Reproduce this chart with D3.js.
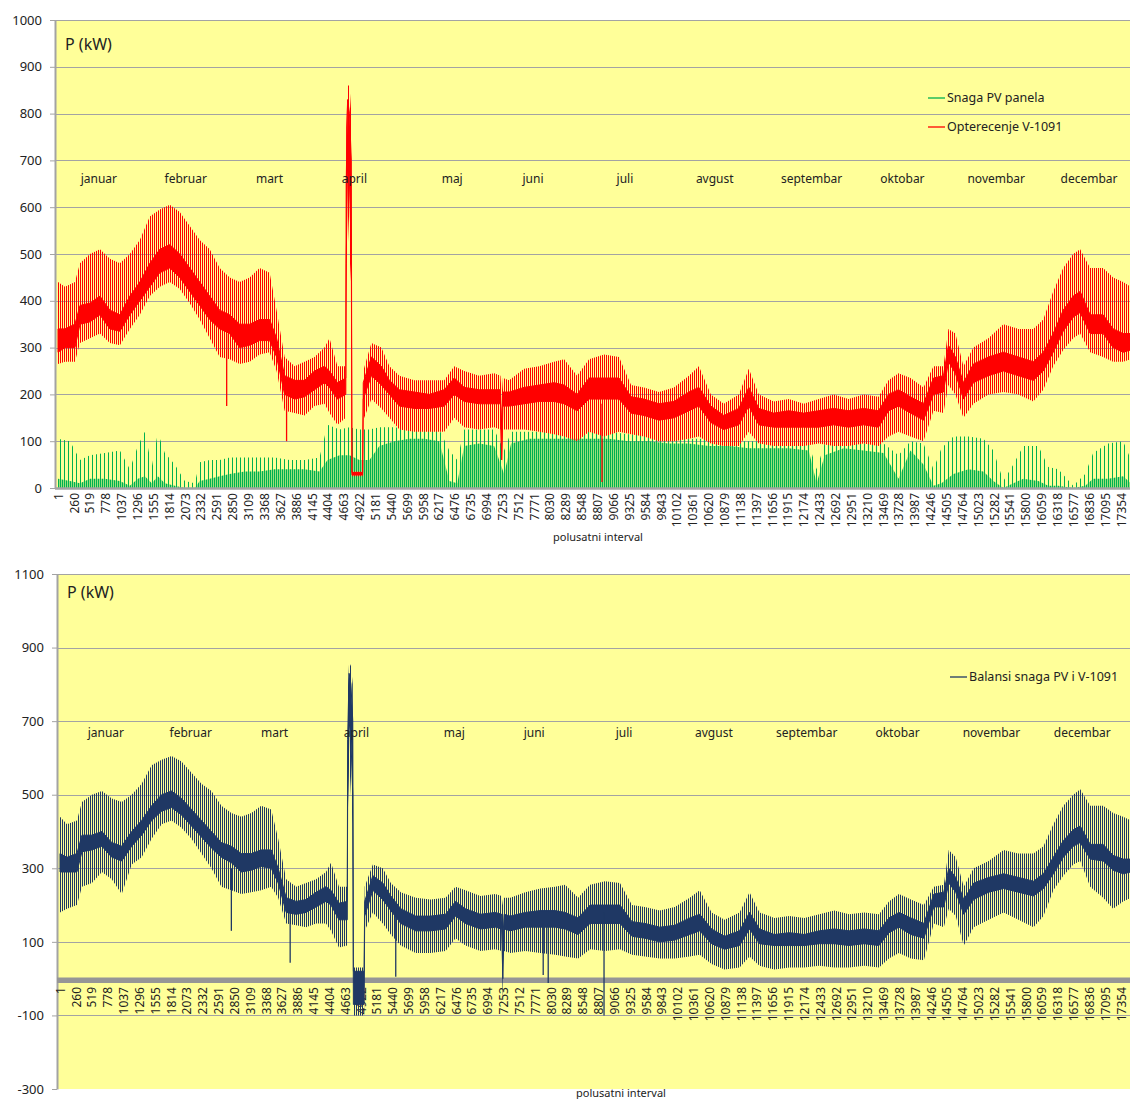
<!DOCTYPE html>
<html>
<head>
<meta charset="utf-8">
<script src="https://cdn.jsdelivr.net/npm/d3@7"></script>
<style>
  body { margin: 0; background: #fff; }
  text { font-family: "Noto Sans", "Open Sans", sans-serif; fill: #222; }
</style>
</head>
<body>
<svg id="chart" width="1130" height="1099"></svg>
<script>
// half-hour interval knots, shared by load and balance
const loadIdx = [1,115,278,360,523,686,848,1011,1174,1337,
  1500,1663,1826,1989,2152,2315,2478,2641,2804,2967,
  3130,3293,3456,3570,3701,3864,4026,4189,4352,4434,
  4564,4700,4706,4730,4760,4790,4800,4975,4985,5118,
  5281,5412,5575,5819,6063,6308,6471,6633,6878,7122,
  7225,7245,7265,7367,7612,7857,8101,8264,8476,8672,
  8916,9161,9357,9568,9813,10057,10302,10465,10660,10872,
  11117,11280,11443,11687,11932,12176,12421,12665,12909,13154,
  13398,13561,13724,13920,14132,14295,14458,14539,14653,14784,
  14947,15192,15436,15680,15925,16088,16250,16413,16576,16690,
  16853,17065,17228,17391,17520];

// Opterecenje V-1091 (kW): spike tops, dense band top, dense band bottom, troughs
const loadHi = [440,430,440,480,500,510,490,480,500,530,
  580,595,605,590,560,530,510,470,450,440,
  450,470,460,380,280,260,270,280,300,320,
  260,260,770,860,860,800,35,35,250,310,
  300,260,240,230,230,230,260,250,240,245,
  240,200,235,230,255,260,270,275,240,275,
  285,280,220,215,205,215,240,260,200,180,
  200,255,200,185,190,180,190,200,190,200,
  195,230,245,235,215,260,260,340,330,260,
  300,320,350,340,340,360,420,470,500,510,
  470,470,450,440,430];
const loadCoreHi = [340,340,350,390,395,410,380,370,410,440,
  480,510,520,500,470,440,410,380,370,350,
  350,360,360,320,240,230,230,250,260,250,
  225,235,650,830,800,700,33,33,225,280,
  260,230,210,205,200,210,235,215,210,210,
  210,130,205,205,215,220,225,220,200,235,
  235,235,195,190,180,185,205,215,175,155,
  170,215,170,160,165,160,165,170,165,170,
  165,200,210,195,180,235,240,305,280,225,
  265,280,290,280,270,290,330,380,410,420,
  370,370,340,330,330];
const loadCoreLo = [290,300,300,350,355,370,340,335,370,400,
  430,460,470,450,420,390,360,340,330,300,
  305,315,315,280,200,190,195,210,225,215,
  190,200,480,700,650,500,28,28,190,240,
  220,200,175,170,170,175,200,185,180,180,
  180,60,175,175,180,185,185,180,165,190,
  190,190,160,155,145,150,165,175,140,125,
  135,175,135,130,130,130,130,135,130,135,
  130,165,175,160,145,200,205,270,245,190,
  225,240,250,240,230,250,290,335,365,375,
  330,330,300,290,295];
const loadLo = [265,270,270,310,320,330,310,305,340,370,
  410,430,440,425,395,360,320,280,275,265,
  270,285,290,250,165,160,155,175,180,160,
  135,150,420,600,500,430,25,25,145,190,
  170,150,125,120,120,120,150,130,125,130,
  125,20,125,125,125,120,115,110,100,120,
  110,120,115,110,100,100,105,110,95,90,
  90,120,95,90,90,90,95,90,90,95,
  90,110,120,110,100,165,160,220,200,150,
  180,200,205,200,185,210,260,295,320,330,
  290,280,270,270,275];
// single-interval drops of the load
const loadDipIdx = [2755, 3733, 8883];
const loadDipLow = [175, 100, 13];
const loadDipTop = [330, 210, 180];

// Snaga PV panela (kW): highest spikes and typical daily peak
const pvIdx = [1,197,360,523,767,1011,1174,1305,1419,1533,
  1631,1745,1908,2071,2234,2315,2478,2641,2804,3049,
  3293,3538,3782,4026,4271,4401,4597,4760,4923,5086,
  5249,5493,5738,5982,6227,6390,6520,6633,6878,7122,
  7285,7399,7693,8019,8345,8672,8998,9324,9650,9976,
  10302,10628,10954,11280,11606,11932,12258,12388,12519,12828,
  13154,13480,13724,13920,14132,14295,14425,14621,14866,15110,
  15273,15436,15599,15762,16007,16170,16333,16576,16772,16902,
  17147,17391,17520];
const pvHi = [105,100,60,70,75,80,40,90,120,45,
  118,75,50,15,10,55,60,60,65,65,
  65,65,60,60,65,135,125,130,125,125,
  130,130,125,125,125,80,60,125,125,125,
  80,120,120,120,120,120,120,115,115,110,
  105,105,100,100,100,100,95,40,95,100,
  95,95,70,100,95,40,85,110,110,105,
  80,15,50,90,90,45,40,5,30,75,
  95,100,60];
const pvMid = [20,15,10,20,20,15,5,20,25,10,
  25,10,5,0,0,15,20,25,30,35,
  35,40,40,40,35,60,70,70,60,60,
  90,100,105,105,100,15,10,90,95,90,
  30,95,105,105,105,105,105,100,100,95,
  95,90,90,85,85,85,80,10,70,85,
  80,75,20,80,50,5,10,30,40,35,
  15,0,10,20,15,5,5,0,5,20,
  20,25,10];

// Balansi snaga PV i V-1091 (kW), same knots as the load
const balIdx = loadIdx;
const balHi = [440,420,430,480,500,510,490,480,500,530,
  580,595,605,590,560,530,510,470,450,440,
  450,470,460,380,270,250,260,270,290,315,
  250,250,770,860,850,800,30,30,250,310,
  300,260,235,220,215,220,250,240,225,230,
  225,200,220,220,235,245,250,255,220,255,
  265,260,200,195,185,195,220,240,180,160,
  180,235,180,165,170,165,175,185,175,180,
  175,210,230,215,200,250,255,350,330,250,
  300,320,350,340,340,360,420,470,500,515,
  470,470,450,440,430];
const balCoreHi = [340,330,340,390,390,400,370,360,400,430,
  470,500,510,490,460,430,400,370,360,340,
  340,350,350,300,220,210,215,235,250,240,
  205,210,650,830,800,700,20,20,210,280,
  260,225,190,170,170,175,210,190,175,180,
  175,100,175,170,180,185,185,180,165,200,
  200,200,155,150,140,145,165,175,135,115,
  130,180,135,120,125,120,130,135,130,135,
  130,165,180,165,150,230,235,300,275,215,
  260,275,285,275,265,285,330,375,405,415,
  365,365,335,325,325];
const balCoreLo = [290,290,290,345,350,360,330,320,360,390,
  430,455,465,445,415,385,355,330,315,290,
  295,305,300,260,180,175,180,195,210,200,
  160,160,480,700,650,500,-70,-70,170,240,
  215,185,150,130,130,135,170,150,135,140,
  135,0,135,130,140,140,140,135,120,150,
  150,150,115,110,100,105,120,130,95,80,
  90,135,95,90,90,90,95,95,90,95,
  90,125,140,120,110,195,195,260,235,175,
  215,235,245,235,225,245,285,330,360,370,
  325,320,295,285,290];
const balLo = [180,190,200,250,260,290,270,230,310,330,
  380,420,430,410,380,340,300,250,240,230,
  235,240,250,220,150,145,140,150,150,130,
  85,90,420,600,500,420,-100,-100,130,180,
  150,120,90,70,70,75,110,90,75,80,
  75,-60,75,70,75,70,65,60,55,80,
  75,80,65,60,55,55,60,65,40,25,
  30,60,35,25,30,30,35,30,30,35,
  30,55,70,55,50,150,140,190,170,90,
  140,160,180,160,140,170,240,280,310,320,
  250,220,190,210,220];
const balDipIdx = [2804, 3766, 5493, 7905, 7987, 8900];
const balDipLow = [130, 43, 5, 10, -12, -100];
const balDipTop = [300, 190, 180, 150, 150, 180];

// axis ticks and month notes
const xTicks = [1,260,519,778,1037,1296,1555,1814,2073,2332,2591,2850,3109,3368,3627,3886,
  4145,4404,4663,4922,5181,5440,5699,5958,6217,6476,6735,6994,7253,7512,7771,8030,8289,
  8548,8807,9066,9325,9584,9843,10102,10361,10620,10879,11138,11397,11656,11915,12174,
  12433,12692,12951,13210,13469,13728,13987,14246,14505,14764,15023,15282,15541,15800,
  16059,16318,16577,16836,17095,17354];
const yTicksTop = [0,100,200,300,400,500,600,700,800,900,1000];
const yTicksBottom = [-300,-100,100,300,500,700,900,1100];
const months = ["januar","februar","mart","april","maj","juni","juli","avgust",
  "septembar","oktobar","novembar","decembar"];
const monthIdxTop = [668,2086,3455,4840,6437,7757,9257,10724,12305,13788,15320,16835];
const monthIdxBottom = [751,2139,3511,4850,6450,7757,9227,10697,12216,13702,15237,16723];

const RED = "#ff0000", GREEN = "#00b050", NAVY = "#1f3864", GRID = "#a3a3a3", BG = "#ffff99";

const svg = d3.select("#chart");
const defs = svg.append("defs");

// vertical hatching stands in for the thousands of daily spikes
function stripes(id, period, w, color) {
  defs.append("pattern").attr("id", id)
    .attr("patternUnits", "userSpaceOnUse")
    .attr("width", period).attr("height", 10)
    .append("rect").attr("width", w).attr("height", 10).attr("fill", color);
}
stripes("redBand", 2, 1, RED);
stripes("greenBand", 4, 1, GREEN);
stripes("greenCore", 2, 1.4, GREEN);
stripes("navyBand", 2, 1, NAVY);

function rows(idx, cols) {
  return idx.map((d, k) => {
    let r = { i: d };
    for (let key in cols) r[key] = cols[key][k];
    return r;
  });
}

function drawFrame(g, x0, x1, y, ticks, gridVals, clipId) {
  g.append("rect")
    .attr("x", x0).attr("y", y.range()[1])
    .attr("width", x1 - x0).attr("height", y.range()[0] - y.range()[1])
    .attr("fill", BG);
  defs.append("clipPath").attr("id", clipId)
    .append("rect")
    .attr("x", x0).attr("y", y.range()[1])
    .attr("width", x1 - x0).attr("height", y.range()[0] - y.range()[1]);

  g.append("g").selectAll("line")
    .data(gridVals)
    .join("line")
    .attr("x1", x0).attr("x2", x1)
    .attr("y1", d => Math.round(y(d)) + 0.5).attr("y2", d => Math.round(y(d)) + 0.5)
    .attr("stroke", GRID).attr("stroke-width", 1.2);

  // y axis
  g.append("g")
    .attr("transform", `translate(${x0},0)`)
    .call(d3.axisLeft(y).tickValues(ticks).tickFormat(d => d)
      .tickSize(5).tickPadding(8).tickSizeOuter(0))
    .call(a => a.select(".domain").attr("stroke", GRID).attr("stroke-width", 2))
    .call(a => a.selectAll(".tick line").attr("stroke", GRID))
    .call(a => a.selectAll("text").attr("font-size", 13).attr("fill", "#222")
      .style("font-family", '"Noto Sans", sans-serif'));
}

function drawXAxis(g, x, yPos) {
  g.append("g")
    .attr("transform", `translate(0,${yPos})`)
    .call(d3.axisBottom(x).tickValues(xTicks).tickSize(0).tickFormat(d => d))
    .call(a => a.select(".domain").remove())
    .call(a => a.selectAll("text")
      .attr("transform", "rotate(-90)")
      .attr("x", -2).attr("y", 0).attr("dy", "0.35em")
      .style("text-anchor", "end")
      .attr("font-size", 12).attr("fill", "#222")
      .style("font-family", '"Noto Sans", sans-serif'));
}

function drawBand(g, x, y, data, bandFill, coreFill, clipId) {
  const cg = g.append("g").attr("clip-path", `url(#${clipId})`);
  cg.append("path").datum(data)
    .attr("fill", bandFill)
    .attr("d", d3.area().x(d => x(d.i)).y0(d => y(d.lo)).y1(d => y(d.hi)));
  cg.append("path").datum(data)
    .attr("fill", coreFill)
    .attr("stroke", coreFill).attr("stroke-width", 1)
    .attr("d", d3.area().x(d => x(d.i)).y0(d => y(d.cLo)).y1(d => y(d.cHi)));
  return cg;
}

function drawDips(g, x, y, idx, low, top, color) {
  g.append("g").selectAll("line")
    .data(idx.map((d, k) => ({ i: d, low: low[k], top: top[k] })))
    .join("line")
    .attr("x1", d => x(d.i)).attr("x2", d => x(d.i))
    .attr("y1", d => y(d.low)).attr("y2", d => y(d.top))
    .attr("stroke", color).attr("stroke-width", 1.3);
}

function drawMonths(g, x, y, idx, val) {
  g.append("g").selectAll("text")
    .data(months)
    .join("text")
    .attr("x", (d, k) => x(idx[k]))
    .attr("y", y(val))
    .attr("dy", "0.35em")
    .attr("text-anchor", "middle")
    .attr("font-size", 12)
    .text(d => d);
}

// ---------------- top chart: load and PV ----------------
const xTop = d3.scaleLinear().domain([1, 17520]).range([58, 1131]);
const yTop = d3.scaleLinear().domain([0, 1000]).range([488, 20]);
const topG = svg.append("g");
drawFrame(topG, 55, 1130, yTop, yTicksTop, yTicksTop.slice(1), "clipTop");

const pvData = rows(pvIdx, { hi: pvHi, mid: pvMid });
const pvG = topG.append("g").attr("clip-path", "url(#clipTop)");
pvG.append("path").datum(pvData)
  .attr("fill", "url(#greenBand)")
  .attr("d", d3.area().x(d => xTop(d.i)).y0(yTop(0)).y1(d => yTop(d.hi)));
pvG.append("path").datum(pvData)
  .attr("fill", "url(#greenCore)")
  .attr("d", d3.area().x(d => xTop(d.i)).y0(yTop(0)).y1(d => yTop(d.mid)));

const loadData = rows(loadIdx, { hi: loadHi, cHi: loadCoreHi, cLo: loadCoreLo, lo: loadLo });
const loadG = drawBand(topG, xTop, yTop, loadData, "url(#redBand)", RED, "clipTop");
drawDips(loadG, xTop, yTop, loadDipIdx, loadDipLow, loadDipTop, RED);

// zero line / category axis
topG.append("line")
  .attr("x1", 55).attr("x2", 1130).attr("y1", yTop(0) + 0.5).attr("y2", yTop(0) + 0.5)
  .attr("stroke", GRID).attr("stroke-width", 2.5);
drawXAxis(topG, xTop, 491);
drawMonths(topG, xTop, yTop, monthIdxTop, 661);

topG.append("text").attr("x", 65).attr("y", 50).attr("font-size", 16).text("P (kW)");
topG.append("text").attr("x", 598).attr("y", 541).attr("text-anchor", "middle")
  .attr("font-size", 11).text("polusatni interval");

// legend
const legTop = topG.append("g").attr("font-size", 12.5);
[["Snaga PV panela", GREEN, 98], ["Opterecenje V-1091", RED, 127]].forEach(([label, c, yy]) => {
  legTop.append("line").attr("x1", 928).attr("x2", 945).attr("y1", yy).attr("y2", yy)
    .attr("stroke", c).attr("stroke-width", 1.3);
  legTop.append("text").attr("x", 947).attr("y", yy).attr("dy", "0.35em").text(label);
});

// ---------------- bottom chart: balance ----------------
const xBot = d3.scaleLinear().domain([1, 17520]).range([60, 1131]);
const yBot = d3.scaleLinear().domain([-300, 1100]).range([1089, 574]);
const botG = svg.append("g");
drawFrame(botG, 57, 1130, yBot, yTicksBottom, yTicksBottom.slice(1), "clipBot");

botG.append("line")
  .attr("x1", 57).attr("x2", 1130).attr("y1", yBot(0) + 1.5).attr("y2", yBot(0) + 1.5)
  .attr("stroke", "#969696").attr("stroke-width", 5.5);
drawXAxis(botG, xBot, 985);

const balData = rows(balIdx, { hi: balHi, cHi: balCoreHi, cLo: balCoreLo, lo: balLo });
const balG = drawBand(botG, xBot, yBot, balData, "url(#navyBand)", NAVY, "clipBot");
drawDips(balG, xBot, yBot, balDipIdx, balDipLow, balDipTop, NAVY);

drawMonths(botG, xBot, yBot, monthIdxBottom, 669);
botG.append("text").attr("x", 67).attr("y", 598).attr("font-size", 16).text("P (kW)");
botG.append("text").attr("x", 621).attr("y", 1097).attr("text-anchor", "middle")
  .attr("font-size", 11).text("polusatni interval");

const legBot = botG.append("g").attr("font-size", 12.5);
legBot.append("line").attr("x1", 950).attr("x2", 967).attr("y1", 677).attr("y2", 677)
  .attr("stroke", NAVY).attr("stroke-width", 1.3);
legBot.append("text").attr("x", 969).attr("y", 677).attr("dy", "0.35em")
  .text("Balansi snaga PV i V-1091");
</script>
</body>
</html>
